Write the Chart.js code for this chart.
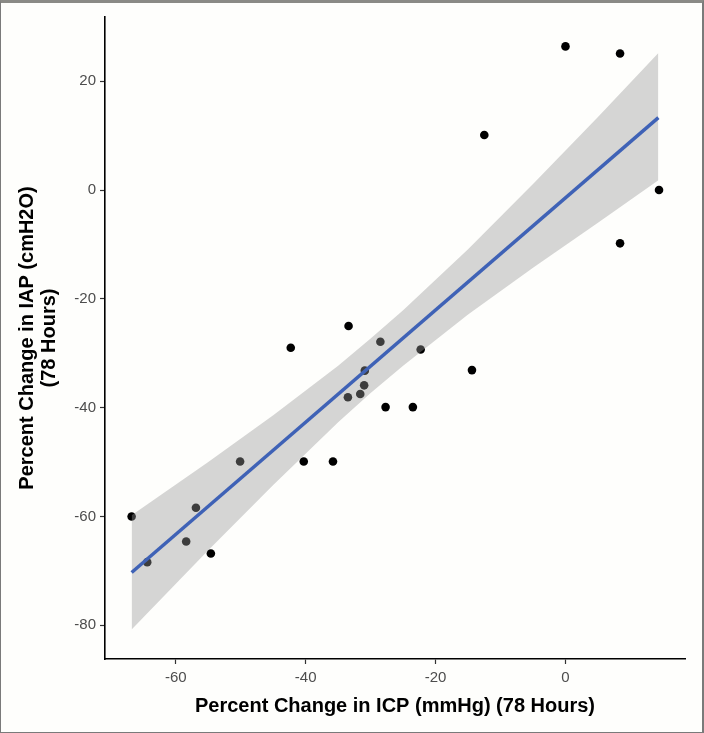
<!DOCTYPE html>
<html>
<head>
<meta charset="utf-8">
<script src="https://cdn.jsdelivr.net/npm/chart.js@4/dist/chart.umd.min.js"></script>
<style>
    html, body { margin: 0; padding: 0; background: #fefefc; }
    #wrap { position: relative; width: 704px; height: 733px; }
    #chart { position: absolute; left: 0; top: 0; }
    #frame {
        position: absolute; left: 0; top: 0; width: 704px; height: 733px;
        box-sizing: border-box; border: 1px solid #7a7a7a; border-top: 3px solid #8a8a86;
        border-right: 2px solid #7a7a7a; pointer-events: none;
    }
</style>
</head>
<body>
<div id="wrap">
    <canvas id="chart" width="704" height="733"></canvas>
    <div id="frame"></div>
</div>
<script>
// Percent change values (x = ICP, y = IAP)
const icpChange = [-66.8, -64.4, -58.4, -56.9, -54.6, -50.1, -42.3, -40.3, -35.8, -33.4, -33.5, -31.6,
                   -31.0, -30.9, -28.5, -27.7, -23.5, -22.3, -14.4, -12.5, 0.0, 8.4, 8.4, 14.4];
const iapChange = [-60.0, -68.4, -64.6, -58.4, -66.8, -49.9, -29.0, -49.9, -49.9, -25.0, -38.1, -37.5,
                   -35.9, -33.2, -27.9, -39.9, -39.9, -29.3, -33.1, 10.1, 26.4, 25.1, -9.8, 0.0];

// fitted line ends
const fitX = [-66.8, 14.3];
const fitY = [-70.3, 13.3];

// confidence band edges read at a few x positions
const bandX = [-66.8, -55, -45, -35, -30, -25, -15, -5, 5, 14.3];
const bandUpper = [-59.8, -50.0, -41.4, -32.3, -27.3, -22.1, -10.9, 1.1, 13.4, 25.2];
const bandLower = [-80.8, -66.2, -54.2, -42.7, -37.3, -32.3, -22.9, -14.3, -6.0, 1.8];

const xTicks = [-60, -40, -20, 0];
const yTicks = [-80, -60, -40, -20, 0, 20];

const toPoints = (xs, ys) => xs.map((x, i) => ({ x: x, y: ys[i] }));

const tickFont = { family: 'Liberation Sans, Arial, sans-serif', size: 15 };
const titleFont = { family: 'Liberation Sans, Arial, sans-serif', size: 20, weight: 'bold', lineHeight: 1.1 };

new Chart(document.getElementById('chart').getContext('2d'), {
    type: 'scatter',
    data: {
        datasets: [
            {
                type: 'line',
                data: toPoints(fitX, fitY),
                borderColor: '#3f62b6',
                borderWidth: 3.5,
                pointRadius: 0,
                fill: false,
                order: 0
            },
            {
                type: 'line',
                data: toPoints(bandX, bandLower),
                borderWidth: 0,
                borderColor: 'rgba(0,0,0,0)',
                pointRadius: 0,
                fill: false,
                order: 1
            },
            {
                type: 'line',
                data: toPoints(bandX, bandUpper),
                borderWidth: 0,
                borderColor: 'rgba(0,0,0,0)',
                backgroundColor: 'rgba(153,153,153,0.4)',
                pointRadius: 0,
                fill: '-1',
                order: 1
            },
            {
                data: toPoints(icpChange, iapChange),
                backgroundColor: '#000000',
                borderWidth: 0,
                pointRadius: 4.3,
                order: 2
            }
        ]
    },
    options: {
        responsive: false,
        animation: false,
        layout: { padding: { top: 17, right: 19, left: 0, bottom: 0 } },
        plugins: { legend: { display: false }, tooltip: { enabled: false } },
        scales: {
            x: {
                type: 'linear',
                min: -70.9,
                max: 18.4,
                afterBuildTicks: axis => { axis.ticks = xTicks.map(v => ({ value: v })); },
                afterFit: axis => { axis.height = 74; },
                grid: { drawOnChartArea: false, drawTicks: true, tickLength: 5, tickWidth: 1.2, color: '#333' },
                border: { display: true, color: '#000', width: 1.6 },
                ticks: { font: tickFont, color: '#4d4d4d', padding: 5 },
                title: {
                    display: true,
                    text: 'Percent Change in ICP (mmHg) (78 Hours)',
                    font: titleFont,
                    color: '#000',
                    padding: { top: 4, bottom: 16 }
                }
            },
            y: {
                type: 'linear',
                min: -86.2,
                max: 31.8,
                afterBuildTicks: axis => { axis.ticks = yTicks.map(v => ({ value: v })); },
                afterFit: axis => { axis.width = 105; },
                grid: { drawOnChartArea: false, drawTicks: true, tickLength: 5, tickWidth: 1.2, color: '#333' },
                border: { display: true, color: '#000', width: 1.6 },
                ticks: { font: tickFont, color: '#4d4d4d', padding: 4 },
                title: {
                    display: true,
                    text: ['Percent Change in IAP (cmH2O)', '(78 Hours)'],
                    font: titleFont,
                    color: '#000',
                    padding: { top: 16, bottom: 4 }
                }
            }
        }
    }
});
</script>
</body>
</html>
